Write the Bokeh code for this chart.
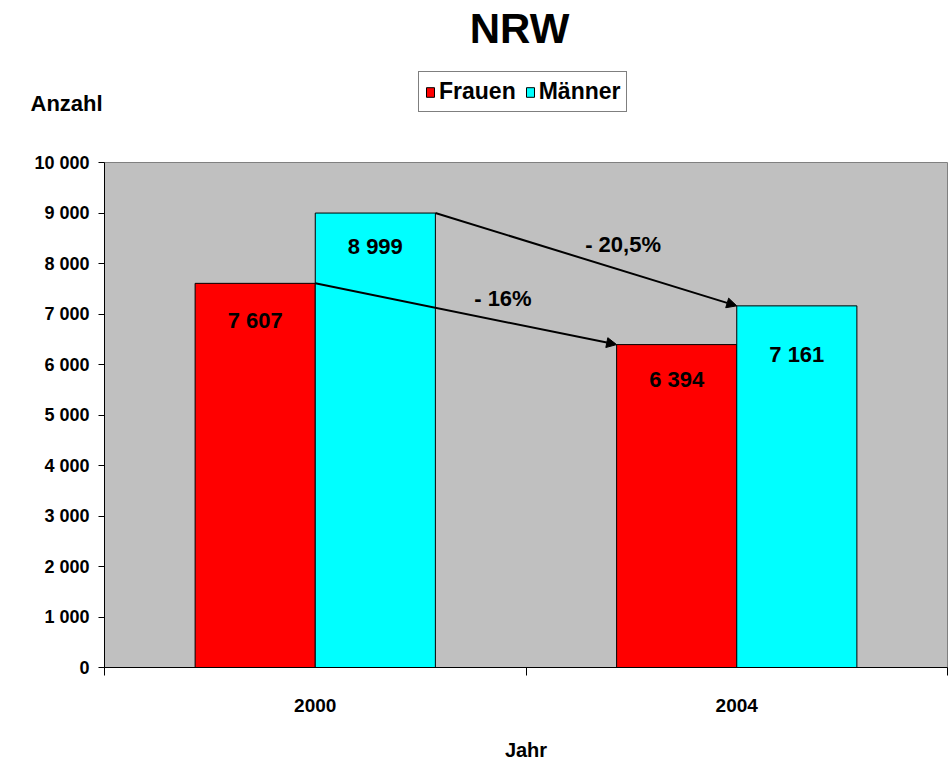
from bokeh.plotting import figure
from bokeh.layouts import column
from bokeh.models import (Range1d, LinearAxis, FixedTicker, ColumnDataSource, Arrow,
                          NormalHead, Label, Legend, LegendItem)
from bokeh.embed import file_html
from bokeh.resources import INLINE
from bokeh.core.properties import value

# ---- data ----
categories = ["2000", "2004"]
series = ["Frauen", "Männer"]
frauen = [7607, 6394]
maenner = [8999, 7161]
changes = ["- 16%", "- 20,5%"]
y_ticks = [0, 1000, 2000, 3000, 4000, 5000, 6000, 7000, 8000, 9000, 10000]

FONT = "Liberation Sans"
RED = "#FF0000"
CYAN = "#00FFFF"
BW = 0.285  # bar width (category units)
W = 951
HEAD_H = 140
MAIN_H = 764 - HEAD_H
NAN = float("nan")


def fmt(v):
    return f"{v:,}".replace(",", " ")


idx = [i + 0.5 for i in range(len(categories))]

# ---------------- header (title, legend, y label) ----------------
head = figure(width=W, height=HEAD_H, output_backend="svg", toolbar_location=None,
              x_range=Range1d(0, 1), y_range=Range1d(0, 1),
              x_axis_location=None, y_axis_location=None,
              min_border=0, min_border_left=0, min_border_right=0,
              min_border_top=0, min_border_bottom=0)
head.frame_align = False
head.grid.visible = False
head.outline_line_color = None
head.background_fill_color = "white"
head.border_fill_color = "white"

# legend proxies (no drawable bar; they only supply the swatches)
lf = head.vbar(x=[0.5], top=[NAN], bottom=[NAN], width=0.1, fill_color=RED, line_color="black")
lm = head.vbar(x=[0.5], top=[NAN], bottom=[NAN], width=0.1, fill_color=CYAN, line_color="black")
legend = Legend(items=[LegendItem(label=series[0], renderers=[lf]),
                       LegendItem(label=series[1], renderers=[lm])],
                orientation="horizontal", location=(418, HEAD_H - 112))
legend.label_text_font = FONT
legend.label_text_font_style = "bold"
legend.label_text_font_size = "23px"
legend.label_text_color = "black"
legend.glyph_width = 10
legend.glyph_height = 12
legend.label_standoff = 4
legend.spacing = 9
legend.padding = 6
legend.margin = 0
legend.border_line_color = "black"
legend.border_line_width = 1
legend.background_fill_color = "white"
legend.background_fill_alpha = 1
head.add_layout(legend, "center")

head.add_layout(Label(x=519, y=HEAD_H - 28, x_units="screen", y_units="screen", text="NRW",
                      text_align="center", text_baseline="middle",
                      text_font=FONT, text_font_style="bold", text_font_size="42px",
                      text_color="black"))
head.add_layout(Label(x=30, y=HEAD_H - 103, x_units="screen", y_units="screen", text="Anzahl",
                      text_align="left", text_baseline="middle",
                      text_font=FONT, text_font_style="bold", text_font_size="22px",
                      text_color="black"))

# ---------------- main chart ----------------
p = figure(width=W, height=MAIN_H, output_backend="svg", toolbar_location=None,
           x_range=Range1d(0, len(categories)), y_range=Range1d(y_ticks[0], y_ticks[-1]),
           x_axis_location=None, y_axis_location=None,
           min_border_left=104, min_border_right=4, min_border_top=162 - HEAD_H,
           min_border_bottom=97)
p.frame_align = False
p.background_fill_color = "#C0C0C0"
p.border_fill_color = "white"
p.outline_line_color = "#808080"
p.grid.visible = False

# y axis
yaxis = LinearAxis(ticker=FixedTicker(ticks=y_ticks),
                   major_label_overrides={t: fmt(t) for t in y_ticks})
yaxis.major_tick_out = 6
yaxis.major_tick_in = 0
yaxis.minor_tick_line_color = None
yaxis.major_label_standoff = 9
yaxis.major_label_text_font = FONT
yaxis.major_label_text_font_style = "bold"
yaxis.major_label_text_font_size = "18px"
yaxis.major_label_text_color = "black"
yaxis.axis_line_color = "black"
yaxis.major_tick_line_color = "black"
p.add_layout(yaxis, "left")

# x axis: ticks at category edges
edges = list(range(len(categories) + 1))
xedge = LinearAxis(ticker=FixedTicker(ticks=edges),
                   major_label_overrides={e: "" for e in edges})
xedge.major_tick_out = 8
xedge.major_tick_in = 0
xedge.minor_tick_line_color = None
xedge.major_label_text_font_size = "0px"
xedge.major_label_standoff = 0
xedge.axis_line_color = "black"
xedge.major_tick_line_color = "black"
p.add_layout(xedge, "below")

# x axis: category labels
xcat = LinearAxis(ticker=FixedTicker(ticks=idx),
                  major_label_overrides={i: c for i, c in zip(idx, categories)},
                  axis_label="Jahr")
xcat.axis_line_color = None
xcat.major_tick_line_color = None
xcat.minor_tick_line_color = None
xcat.major_tick_out = 0
xcat.major_tick_in = 0
xcat.major_label_standoff = 23
xcat.major_label_text_font = FONT
xcat.major_label_text_font_style = "bold"
xcat.major_label_text_font_size = "19px"
xcat.major_label_text_color = "black"
xcat.axis_label_standoff = 24
xcat.axis_label_text_font = FONT
xcat.axis_label_text_font_style = "bold"
xcat.axis_label_text_font_size = "20px"
xcat.axis_label_text_color = "black"
p.add_layout(xcat, "below")

# bars
fx = [i - BW / 2 for i in idx]
mx = [i + BW / 2 for i in idx]
src_f = ColumnDataSource(dict(x=fx, top=frauen, lab=[fmt(v) for v in frauen], dy=[37, 35]))
src_m = ColumnDataSource(dict(x=mx, top=maenner, lab=[fmt(v) for v in maenner], dy=[33, 49]))
rf = p.vbar(x="x", top="top", bottom=0, width=BW, source=src_f,
            fill_color=RED, line_color="black", line_width=1)
rm = p.vbar(x="x", top="top", bottom=0, width=BW, source=src_m,
            fill_color=CYAN, line_color="black", line_width=1)

for src in (src_f, src_m):
    p.text(x="x", y="top", text="lab", y_offset="dy", source=src,
           text_align="center", text_baseline="middle",
           text_font=value(FONT), text_font_style="bold", text_font_size="22px",
           text_color="black")

# arrows between years
arr = ColumnDataSource(dict(
    x0=[idx[0], idx[0] + BW],
    y0=[frauen[0], maenner[0]],
    x1=[idx[1] - BW, idx[1]],
    y1=[frauen[1], maenner[1]],
))
p.add_layout(Arrow(source=arr, x_start="x0", y_start="y0", x_end="x1", y_end="y1",
                   line_width=2, line_color="black",
                   end=NormalHead(size=10, fill_color="black", line_color="black", line_width=1)))

mid = ColumnDataSource(dict(
    x=[(a + b) / 2 for a, b in zip(arr.data["x0"], arr.data["x1"])],
    y=[(a + b) / 2 for a, b in zip(arr.data["y0"], arr.data["y1"])],
    lab=changes,
))
p.text(x="x", y="y", text="lab", source=mid, x_offset=37, y_offset=-15,
       text_align="center", text_baseline="middle",
       text_font=value(FONT), text_font_style="bold", text_font_size="22px",
       text_color="black")

layout = column(head, p, spacing=0)
open("out.html", "w").write(file_html(layout, INLINE))
